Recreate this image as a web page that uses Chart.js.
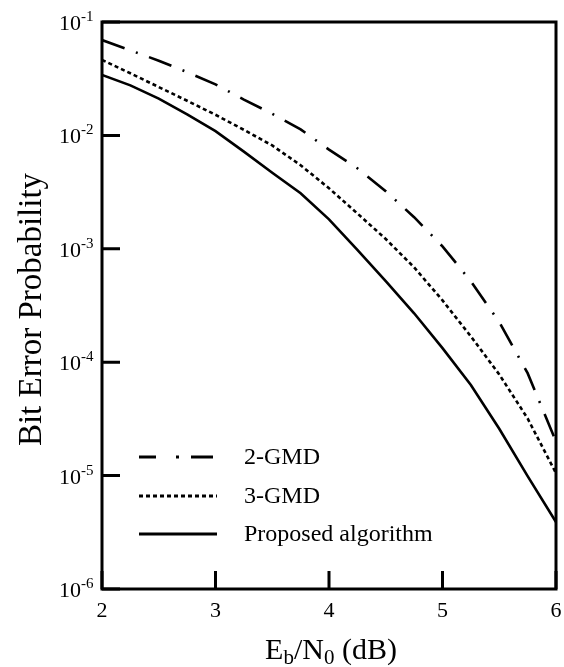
<!DOCTYPE html>
<html>
<head>
<meta charset="utf-8">
<script src="https://cdn.jsdelivr.net/npm/chart.js@4/dist/chart.umd.min.js"></script>
<style>
  html, body { margin: 0; padding: 0; background: #ffffff; }
  canvas { display: block; }
</style>
</head>
<body>
<canvas id="c" width="564" height="667"></canvas>
<script>
// Eb/N0 in dB
const snrDb = [2, 2.25, 2.5, 2.75, 3, 3.25, 3.5, 3.75, 4, 4.25, 4.5, 4.75, 5, 5.25, 5.5, 5.75, 6];

// Bit error probability for each decoder
const gmd2 = [6.93e-2, 5.62e-2, 4.56e-2, 3.61e-2, 2.82e-2, 2.07e-2, 1.55e-2, 1.13e-2, 7.5e-3,
              5.13e-3, 3.22e-3, 1.9e-3, 1.05e-3, 5.17e-4, 2.26e-4, 8.0e-5, 2.0e-5];
const gmd3 = [4.63e-2, 3.53e-2, 2.67e-2, 2.02e-2, 1.52e-2, 1.12e-2, 8.15e-3, 5.46e-3, 3.42e-3,
              2.05e-3, 1.22e-3, 6.86e-4, 3.51e-4, 1.69e-4, 7.8e-5, 3.19e-5, 1.05e-5];
const proposed = [3.41e-2, 2.76e-2, 2.11e-2, 1.53e-2, 1.09e-2, 7.2e-3, 4.69e-3, 3.09e-3, 1.82e-3,
                  9.8e-4, 5.2e-4, 2.70e-4, 1.33e-4, 6.3e-5, 2.59e-5, 9.9e-6, 3.9e-6];

const seriesNames = ['2-GMD', '3-GMD', 'Proposed algorithm'];

// Axis ticks
const xTicks = [2, 3, 4, 5, 6];
const yExponents = [-1, -2, -3, -4, -5, -6];

const SERIF = '"Liberation Serif", "Times New Roman", serif';
const dashDot = [24, 12, 2, 12];
const dotted = [4, 3];

function toPoints(ys) {
  return snrDb.map((x, i) => ({ x: x, y: ys[i] }));
}

const frame = {
  id: 'frame',
  afterDraw(chart) {
    const ctx = chart.ctx;
    const xs = chart.scales.x, ys = chart.scales.y;
    const a = chart.chartArea;
    ctx.save();
    ctx.strokeStyle = '#000';
    ctx.fillStyle = '#000';
    ctx.lineWidth = 3;
    ctx.setLineDash([]);
    ctx.lineCap = 'butt';

    // box
    ctx.strokeRect(a.left, a.top, a.right - a.left, a.bottom - a.top);

    // inward ticks
    ctx.beginPath();
    xTicks.forEach(v => {
      const px = xs.getPixelForValue(v);
      ctx.moveTo(px, a.bottom);
      ctx.lineTo(px, a.bottom - 18);
    });
    yExponents.forEach(e => {
      const py = ys.getPixelForValue(Math.pow(10, e));
      ctx.moveTo(a.left, py);
      ctx.lineTo(a.left + 18, py);
    });
    ctx.stroke();

    // x tick labels
    ctx.font = '22px ' + SERIF;
    ctx.textAlign = 'center';
    ctx.textBaseline = 'alphabetic';
    xTicks.forEach(v => {
      ctx.fillText(String(v), xs.getPixelForValue(v), a.bottom + 28);
    });

    // y tick labels: 10 with superscript exponent
    yExponents.forEach(e => {
      const py = ys.getPixelForValue(Math.pow(10, e));
      ctx.font = '22px ' + SERIF;
      ctx.textAlign = 'right';
      ctx.fillText('10', 81, py + 8);
      ctx.font = '15px ' + SERIF;
      ctx.textAlign = 'left';
      ctx.fillText('-' + Math.abs(e), 81, py - 1);
    });

    // x axis title: Eb/N0 (dB)
    const parts = [
      { t: 'E', sub: false }, { t: 'b', sub: true }, { t: '/N', sub: false },
      { t: '0', sub: true }, { t: ' (dB)', sub: false }
    ];
    const big = '30px ' + SERIF, small = '21px ' + SERIF;
    let total = 0;
    parts.forEach(p => { ctx.font = p.sub ? small : big; p.w = ctx.measureText(p.t).width; total += p.w; });
    let cx = (a.left + a.right) / 2 + 2 - total / 2;
    ctx.textAlign = 'left';
    parts.forEach(p => {
      ctx.font = p.sub ? small : big;
      ctx.fillText(p.t, cx, p.sub ? 664 : 659);
      cx += p.w;
    });

    // y axis title
    ctx.save();
    ctx.translate(41, (a.top + a.bottom) / 2 + 4);
    ctx.rotate(-Math.PI / 2);
    ctx.font = '33px ' + SERIF;
    ctx.textAlign = 'center';
    ctx.fillText('Bit Error Probability', 0, 0);
    ctx.restore();

    // legend
    const rows = [457, 496, 534];
    const x0 = 139, x1 = 217;
    ctx.lineWidth = 3;
    // 2-GMD sample: dash, dot, dash
    ctx.beginPath();
    ctx.moveTo(x0, rows[0]); ctx.lineTo(x0 + 17, rows[0]);
    ctx.moveTo(x0 + 37, rows[0]); ctx.lineTo(x0 + 40, rows[0]);
    ctx.moveTo(x0 + 52, rows[0]); ctx.lineTo(x1 - 4, rows[0]);
    ctx.stroke();
    // 3-GMD sample
    ctx.setLineDash(dotted);
    ctx.beginPath();
    ctx.moveTo(x0, rows[1]); ctx.lineTo(x1, rows[1]);
    ctx.stroke();
    // proposed sample
    ctx.setLineDash([]);
    ctx.beginPath();
    ctx.moveTo(x0, rows[2]); ctx.lineTo(x1, rows[2]);
    ctx.stroke();

    ctx.font = '24px ' + SERIF;
    ctx.textAlign = 'left';
    ctx.textBaseline = 'middle';
    seriesNames.forEach((n, i) => ctx.fillText(n, 244, rows[i] + 1));
    ctx.restore();
  }
};

new Chart(document.getElementById('c'), {
  type: 'scatter',
  data: {
    datasets: [
      { label: seriesNames[0], data: toPoints(gmd2), borderDash: dashDot },
      { label: seriesNames[1], data: toPoints(gmd3), borderDash: dotted },
      { label: seriesNames[2], data: toPoints(proposed), borderDash: [] }
    ].map(d => Object.assign(d, {
      showLine: true,
      borderColor: '#000',
      backgroundColor: '#000',
      borderWidth: 2.6,
      pointRadius: 0,
      tension: 0,
      fill: false
    }))
  },
  options: {
    responsive: false,
    animation: false,
    devicePixelRatio: 1,
    layout: { padding: { left: 102, right: 8, top: 22, bottom: 78 } },
    plugins: { legend: { display: false }, tooltip: { enabled: false } },
    scales: {
      x: { type: 'linear', min: 2, max: 6, display: false },
      y: { type: 'logarithmic', min: 1e-6, max: 1e-1, display: false }
    }
  },
  plugins: [frame]
});
</script>
</body>
</html>
